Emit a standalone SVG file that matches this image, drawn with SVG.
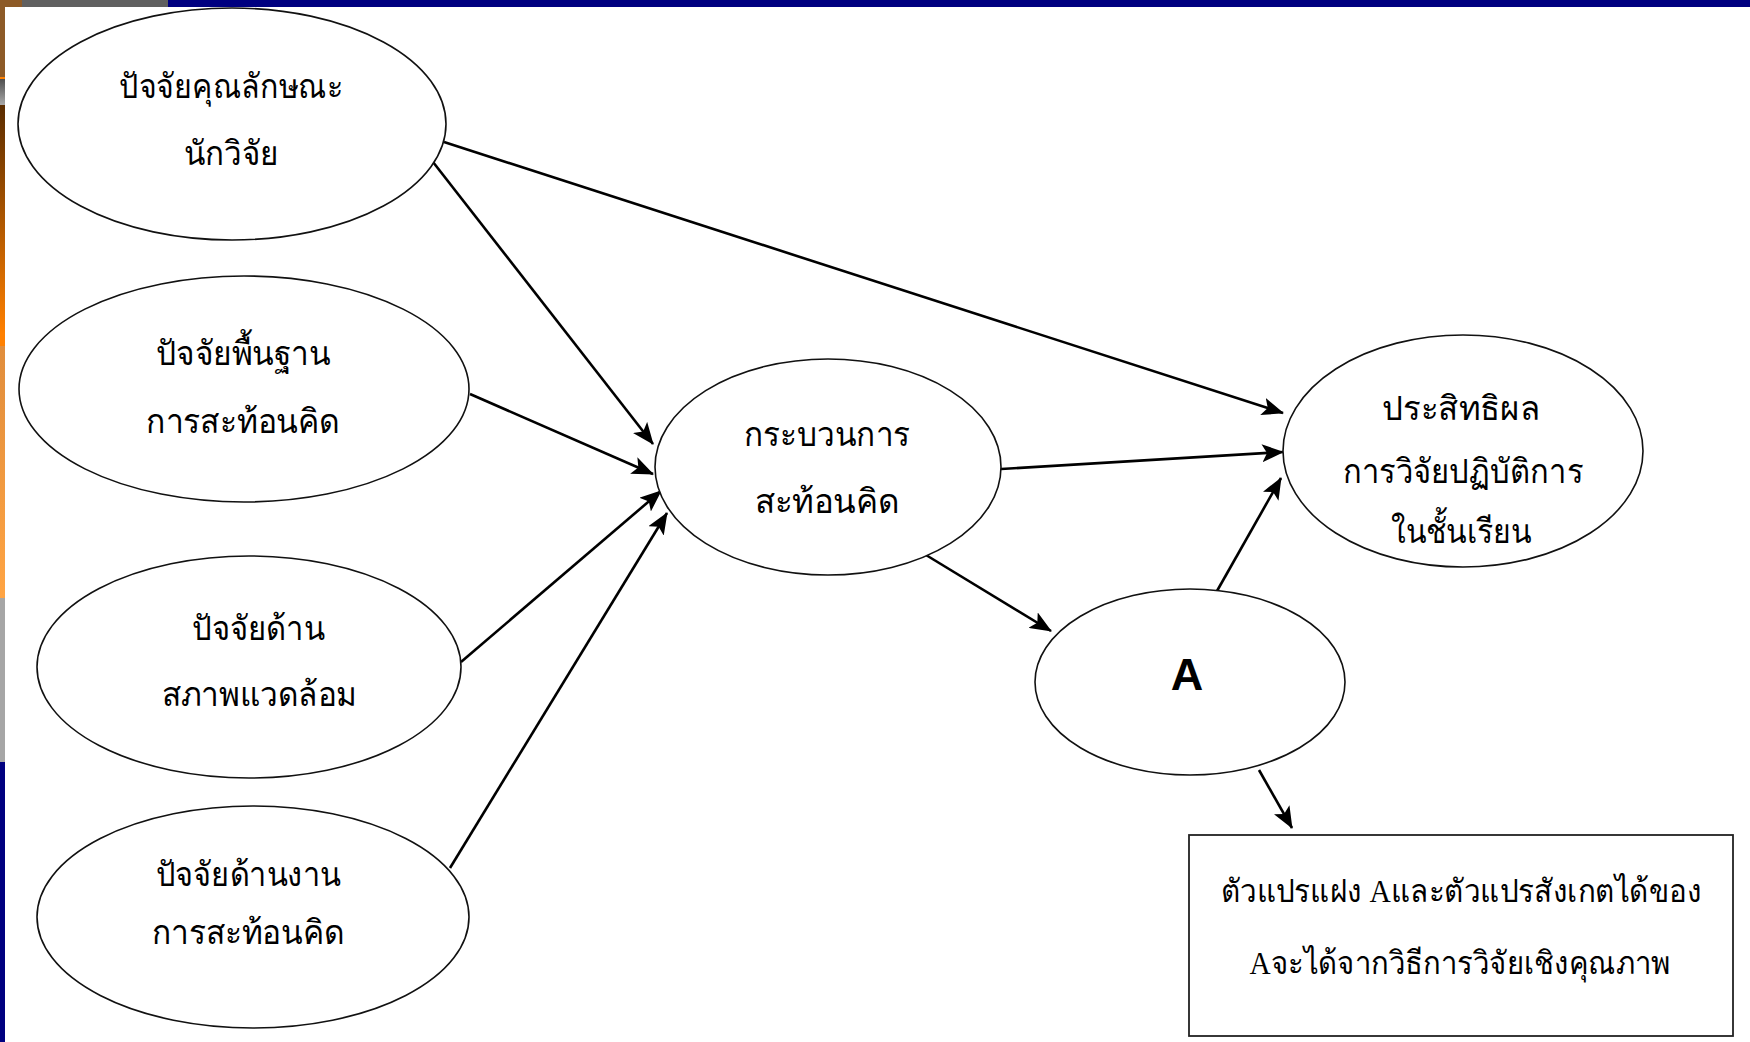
<svg xmlns="http://www.w3.org/2000/svg" width="1750" height="1042" viewBox="0 0 1750 1042">
<style>
.node ellipse{fill:#fff;stroke:#111;stroke-width:1.6}
.t{font-family:"Noto Sans","DejaVu Sans",sans-serif;font-size:34px;fill:#000;text-anchor:middle}
.s{font-family:"Liberation Serif",serif;font-size:32px;fill:#000;text-anchor:middle}
.edge{stroke:#000;stroke-width:2.6;fill:none;marker-end:url(#ah)}
</style>
<defs>
<marker id="ah" viewBox="0 0 22 18" refX="21" refY="9" markerWidth="22" markerHeight="18" markerUnits="userSpaceOnUse" orient="auto">
<path d="M0,0 L22,9 L0,18 L5,9 Z" fill="#000"/>
</marker>
<linearGradient id="g1" x1="0" y1="0" x2="0" y2="1"><stop offset="0" stop-color="#4e4e4e"/><stop offset="1" stop-color="#a8a8a8"/></linearGradient>
<linearGradient id="g2" x1="0" y1="0" x2="0" y2="1"><stop offset="0" stop-color="#5a2c00"/><stop offset="0.95" stop-color="#ff8000"/><stop offset="1" stop-color="#ff8000"/></linearGradient>
<linearGradient id="g3" x1="0" y1="0" x2="0" y2="1"><stop offset="0" stop-color="#e08d3c"/><stop offset="1" stop-color="#ffa443"/></linearGradient>
</defs>
<rect width="1750" height="1042" fill="#fff"/>
<g id="frame">
<rect x="0" y="0" width="22" height="7" fill="#8d5a27"/>
<rect x="22" y="0" width="146" height="7" fill="#606060"/>
<rect x="168" y="0" width="1582" height="7" fill="#000080"/>
<rect x="0" y="7" width="5" height="70" fill="#8d5a27"/>
<rect x="0" y="77" width="5" height="2" fill="#ff8000"/>
<rect x="0" y="79" width="5" height="26" fill="url(#g1)"/>
<rect x="0" y="105" width="5" height="241" fill="url(#g2)"/>
<rect x="0" y="346" width="5" height="252" fill="url(#g3)"/>
<rect x="0" y="598" width="5" height="164" fill="#a6a6a6"/>
<rect x="0" y="762" width="5" height="280" fill="#000080"/>
</g>
<g id="connectors">
<line class="edge" x1="444" y1="142" x2="1283" y2="413"/>
<line class="edge" x1="433" y1="162" x2="653" y2="444"/>
<line class="edge" x1="470" y1="394" x2="653" y2="474"/>
<line class="edge" x1="461" y1="662" x2="661" y2="491"/>
<line class="edge" x1="450" y1="868" x2="667" y2="513"/>
<line class="edge" x1="1001" y1="469" x2="1283" y2="452"/>
<line class="edge" x1="926" y1="555" x2="1051" y2="631"/>
<line class="edge" x1="1217" y1="591" x2="1281" y2="478"/>
<line class="edge" x1="1259" y1="770" x2="1292" y2="828"/>
</g>
<g id="n1" class="node">
<ellipse cx="232" cy="124" rx="214" ry="116"/>
<text class="t" x="231" y="98" textLength="224" lengthAdjust="spacingAndGlyphs">ปัจจัยคุณลักษณะ</text>
<text class="t" x="231" y="165" textLength="95" lengthAdjust="spacingAndGlyphs">นักวิจัย</text>
</g>
<g id="n2" class="node">
<ellipse cx="244" cy="389" rx="225" ry="113"/>
<text class="t" x="243" y="365" textLength="175" lengthAdjust="spacingAndGlyphs">ปัจจัยพื้นฐาน</text>
<text class="t" x="243" y="433" textLength="194" lengthAdjust="spacingAndGlyphs">การสะท้อนคิด</text>
</g>
<g id="n3" class="node">
<ellipse cx="249" cy="667" rx="212" ry="111"/>
<text class="t" x="258" y="640" textLength="133" lengthAdjust="spacingAndGlyphs">ปัจจัยด้าน</text>
<text class="t" x="259" y="706" textLength="195" lengthAdjust="spacingAndGlyphs">สภาพแวดล้อม</text>
</g>
<g id="n4" class="node">
<ellipse cx="253" cy="917" rx="216" ry="111"/>
<text class="t" x="248" y="886" textLength="185" lengthAdjust="spacingAndGlyphs">ปัจจัยด้านงาน</text>
<text class="t" x="248" y="944" textLength="193" lengthAdjust="spacingAndGlyphs">การสะท้อนคิด</text>
</g>
<g id="n5" class="node">
<ellipse cx="828" cy="467" rx="173" ry="108"/>
<text class="t" x="827" y="446" textLength="166" lengthAdjust="spacingAndGlyphs">กระบวนการ</text>
<text class="t" x="827" y="513" textLength="145" lengthAdjust="spacingAndGlyphs">สะท้อนคิด</text>
</g>
<g id="n6" class="node">
<ellipse cx="1463" cy="451" rx="180" ry="116"/>
<text class="t" x="1461" y="420" textLength="158" lengthAdjust="spacingAndGlyphs">ประสิทธิผล</text>
<text class="t" x="1463" y="483" textLength="240" lengthAdjust="spacingAndGlyphs">การวิจัยปฏิบัติการ</text>
<text class="t" x="1461" y="543" textLength="141" lengthAdjust="spacingAndGlyphs">ในชั้นเรียน</text>
</g>
<g id="n7" class="node">
<ellipse cx="1190" cy="682" rx="155" ry="93"/>
<text x="1187" y="690" font-family="'Liberation Sans',Arial,sans-serif" font-weight="bold" font-size="45" text-anchor="middle">A</text>
</g>
<g id="n8" class="node">
<rect x="1189" y="835" width="544" height="201" fill="#fff" stroke="#222" stroke-width="1.8"/>
<text class="s" x="1461" y="902" textLength="481" lengthAdjust="spacingAndGlyphs">ตัวแปรแฝง Aและตัวแปรสังเกตได้ของ</text>
<text class="s" x="1460" y="974" textLength="421" lengthAdjust="spacingAndGlyphs">Aจะได้จากวิธีการวิจัยเชิงคุณภาพ</text>
</g>
</svg>
